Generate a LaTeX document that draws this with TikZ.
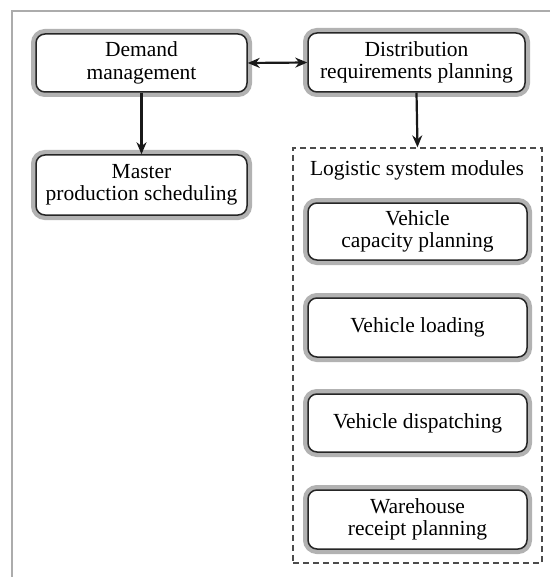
\documentclass[tikz,border=0pt]{standalone}
\usepackage{fontspec}
\setmainfont{Liberation Serif}
\usetikzlibrary{arrows.meta}
\begin{document}
\begin{tikzpicture}[x=1pt,y=-1pt,
  box/.style={rectangle, rounded corners=9pt, draw=black!85, line width=1.5pt, fill=white,
    preaction={draw=gray!60, line width=10pt},
    align=center, inner sep=0pt, font=\fontsize{21.5}{22.5}\selectfont},
  tip/.tip={Stealth[length=12pt,width=10pt]},
  arr/.style={-tip, line width=2.2pt, draw=black!90},
  darr/.style={tip-tip, line width=2.2pt, draw=black!90},
  frame/.style={draw=gray!65, line width=2.5pt}]
\useasboundingbox (0,0) rectangle (550,577);
\draw[frame] (12,577) -- (12,11) -- (550,11);
\node[box, minimum width=211pt, minimum height=58pt] (dm) at (141.5,63) {Demand\\management};
\node[box, minimum width=211pt, minimum height=60pt] (mps) at (141.5,185) {Master\\production scheduling};
\node[box, minimum width=217pt, minimum height=59pt] (drp) at (416.5,62.5) {Distribution\\requirements planning};
\node[draw=black!70, dashed, dash pattern=on 6pt off 4pt, line width=1.3pt, minimum width=249pt, minimum height=415pt, inner sep=0pt] (lsm) at (417.5,355.5) {};
\node[font=\fontsize{21.5}{22.5}\selectfont] (lsmt) at (417,170) {Logistic system modules};
\node[box, minimum width=219pt, minimum height=57pt] (vcp) at (417.5,231.5) {Vehicle\\capacity planning};
\node[box, minimum width=219pt, minimum height=59pt] (vl) at (417.5,327.5) {Vehicle loading};
\node[box, minimum width=219pt, minimum height=58pt] (vd) at (417.5,423) {Vehicle dispatching};
\node[box, minimum width=219pt, minimum height=59pt] (wr) at (417.5,519.5) {Warehouse\\receipt planning};
\draw[arr] (dm.south) -- (mps.north);
\draw[darr] (dm.east) -- (drp.west);
\draw[arr] (drp.south) -- (lsm.north);
\end{tikzpicture}
\end{document}
